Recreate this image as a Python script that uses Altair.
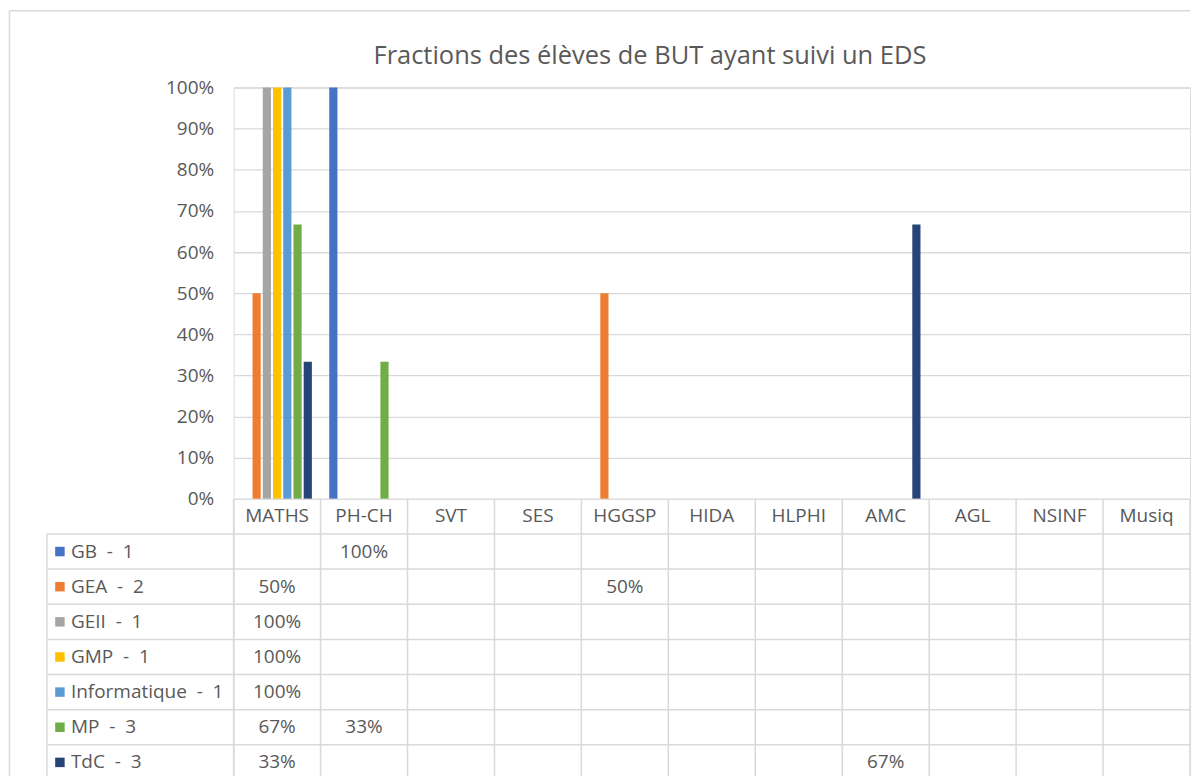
import altair as alt
import pandas as pd

# ---- data ----
categories = ["MATHS", "PH-CH", "SVT", "SES", "HGGSP", "HIDA", "HLPHI", "AMC", "AGL", "NSINF", "Musiq"]
series = ["GB\u00a0 -\u00a0 1", "GEA\u00a0 -\u00a0 2", "GEII\u00a0 -\u00a0 1", "GMP\u00a0 -\u00a0 1",
          "Informatique\u00a0 -\u00a0 1", "MP\u00a0 -\u00a0 3", "TdC\u00a0 -\u00a0 3"]
colors = ["#4472C4", "#ED7D31", "#A5A5A5", "#FFC000", "#5B9BD5", "#70AD47", "#264478"]

# values per series (None = empty cell)
gb_vals =   [None, 1.0, None, None, None, None, None, None, None, None, None]
gea_vals =  [0.5, None, None, None, 0.5, None, None, None, None, None, None]
geii_vals = [1.0, None, None, None, None, None, None, None, None, None, None]
gmp_vals =  [1.0, None, None, None, None, None, None, None, None, None, None]
info_vals = [1.0, None, None, None, None, None, None, None, None, None, None]
mp_vals =   [0.6667, 0.3333, None, None, None, None, None, None, None, None, None]
tdc_vals =  [0.3333, None, None, None, None, None, None, 0.6667, None, None, None]

title_text = "Fractions des élèves de BUT ayant suivi un EDS"
y_ticks = [0, 0.1, 0.2, 0.3, 0.4, 0.5, 0.6, 0.7, 0.8, 0.9, 1.0]

all_vals = [gb_vals, gea_vals, geii_vals, gmp_vals, info_vals, mp_vals, tdc_vals]
rows = []
for s, vals in zip(series, all_vals):
    for c, v in zip(categories, vals):
        if v is not None:
            rows.append({"cat": c, "series": s, "value": v, "label": f"{round(v * 100)}%"})
df = pd.DataFrame(rows)

FONT = "Open Sans"
TXT = "#595959"
GRID = "#D9D9D9"
W = 958
H_PLOT = 412
HDR = "hdr"
row_domain = [HDR] + series
ROW_H = 35.2
H_TAB = ROW_H * len(row_domain)
FS = 19
FX = -224.5  # outer frame line, left of plot

color_scale = alt.Scale(domain=series, range=colors)
x_scale = alt.Scale(domain=categories, paddingInner=0, paddingOuter=0)

# ---- top bar chart ----
bars = alt.Chart(df).mark_bar().encode(
    x=alt.X("cat:N", scale=x_scale, axis=None, sort=categories),
    xOffset=alt.XOffset("series:N", scale=alt.Scale(domain=series, paddingInner=0.2, paddingOuter=0.85)),
    y=alt.Y("value:Q", scale=alt.Scale(domain=[0, 1]),
            axis=alt.Axis(values=y_ticks, format="%", title=None, ticks=False, tickSize=0,
                          domain=False, labelPadding=20, labelFontSize=FS, labelColor=TXT,
                          labelFont=FONT, grid=True, gridColor=GRID, gridWidth=1.3)),
    color=alt.Color("series:N", scale=color_scale, legend=None),
)

title_df = pd.DataFrame({"t": [title_text]})
title = alt.Chart(title_df).mark_text(font=FONT, fontSize=25.5, color=TXT, baseline="middle", align="center").encode(
    text="t:N", x=alt.value(417), y=alt.value(-32)
)
frame_top = alt.Chart(title_df).mark_rule(color=GRID, strokeWidth=1.5).encode(
    x=alt.value(FX), x2=alt.value(W), y=alt.value(-77)
)
frame_left_top = alt.Chart(title_df).mark_rule(color=GRID, strokeWidth=1.5).encode(
    x=alt.value(FX), y=alt.value(-77), y2=alt.value(H_PLOT)
)

top = alt.layer(frame_top, frame_left_top, bars, title).properties(width=W, height=H_PLOT)

# ---- data table ----
y_scale = alt.Scale(domain=row_domain, paddingInner=0, paddingOuter=0)
cat_df = pd.DataFrame({"cat": categories, "row": [HDR] * len(categories)})
ser_df = pd.DataFrame({"series": series, "row": series})

vlines = alt.Chart(cat_df).mark_rule(color=GRID, strokeWidth=1.5).encode(
    x=alt.X("cat:N", scale=x_scale, axis=None, bandPosition=0, sort=categories),
    y=alt.value(0), y2=alt.value(H_TAB),
)
vline_end = alt.Chart(cat_df.tail(1)).mark_rule(color=GRID, strokeWidth=1.5).encode(
    x=alt.X("cat:N", scale=x_scale, axis=None, bandPosition=1, sort=categories),
    y=alt.value(0), y2=alt.value(H_TAB),
)
hlines = alt.Chart(ser_df).mark_rule(color=GRID, strokeWidth=1.5).encode(
    y=alt.Y("row:N", scale=y_scale, axis=None, bandPosition=0),
    x=alt.value(-187), x2=alt.value(W),
)
left_line = alt.Chart(ser_df.head(1)).mark_rule(color=GRID, strokeWidth=1.5).encode(
    y=alt.Y("row:N", scale=y_scale, axis=None, bandPosition=0),
    y2=alt.value(H_TAB), x=alt.value(-187),
)
frame_left_tab = alt.Chart(ser_df.head(1)).mark_rule(color=GRID, strokeWidth=1.5).encode(
    x=alt.value(FX), y=alt.value(0), y2=alt.value(H_TAB),
)
hdr_text = alt.Chart(cat_df).mark_text(font=FONT, fontSize=FS, color=TXT).encode(
    x=alt.X("cat:N", scale=x_scale, axis=None, sort=categories),
    y=alt.Y("row:N", scale=y_scale, axis=None),
    text="cat:N",
)
cell_text = alt.Chart(df).mark_text(font=FONT, fontSize=FS, color=TXT).encode(
    x=alt.X("cat:N", scale=x_scale, axis=None, sort=categories),
    y=alt.Y("series:N", scale=y_scale, axis=None),
    text="label:N",
)
row_text = alt.Chart(ser_df).mark_text(font=FONT, fontSize=FS, color=TXT, align="left").encode(
    y=alt.Y("row:N", scale=y_scale, axis=None),
    x=alt.value(-163),
    text="series:N",
)
keys = alt.Chart(ser_df).mark_square(size=90, opacity=1).encode(
    y=alt.Y("row:N", scale=y_scale, axis=None),
    x=alt.value(-174),
    color=alt.Color("series:N", scale=color_scale, legend=None),
)

table = alt.layer(frame_left_tab, vlines, vline_end, hlines, left_line, hdr_text, cell_text, row_text, keys).properties(
    width=W, height=H_TAB
)

chart = alt.vconcat(top, table, spacing=0, bounds="flush").properties(
    padding=0
).configure_view(strokeWidth=0).configure(font=FONT)

chart.save("out.html", embed_options={"renderer": "svg", "actions": False})
